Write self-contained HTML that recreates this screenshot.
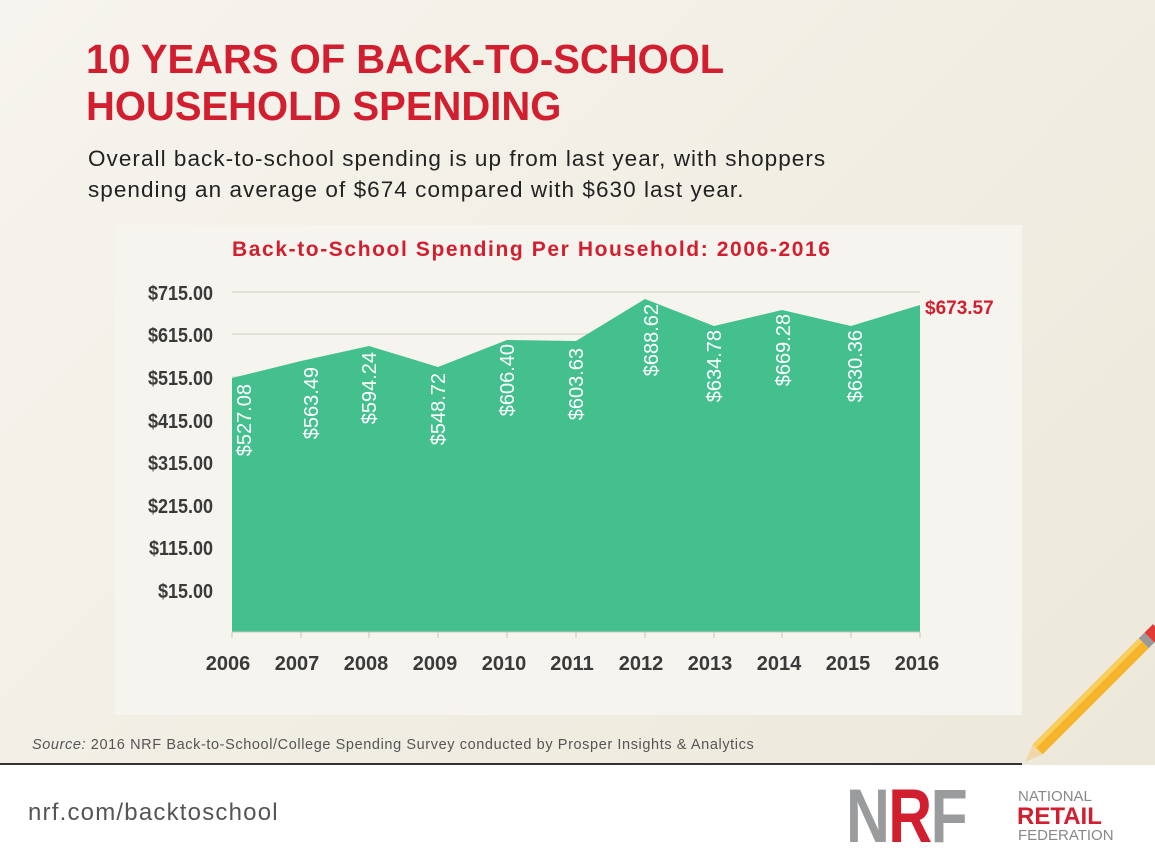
<!DOCTYPE html>
<html><head><style>
body{margin:0;width:1155px;height:864px;overflow:hidden;font-family:"Liberation Sans",sans-serif;}
.bg{position:absolute;left:0;top:0;width:1155px;height:765px;background:linear-gradient(135deg,#f6f4ee 0%,#ece8da 100%);}
.white{position:absolute;left:0;top:765px;width:1155px;height:99px;background:#fff;}
h1{position:absolute;left:86px;top:36px;margin:0;font-size:41px;line-height:47px;color:#d21f30;font-weight:bold;transform:scaleX(0.975);transform-origin:0 0;white-space:nowrap;}
.sub{position:absolute;left:88px;top:143px;font-size:22.5px;line-height:31px;color:#222;letter-spacing:1.05px;white-space:nowrap;}
.panel{position:absolute;left:115px;top:225px;width:907px;height:490px;background:#f6f4ee;}
.src{position:absolute;left:32px;top:737px;font-size:14.5px;color:#555;letter-spacing:0.6px;white-space:nowrap;}
.url{position:absolute;left:28px;top:799px;font-size:24px;color:#555;letter-spacing:1.2px;}
</style></head><body>
<div class="bg"></div><div class="white"></div>
<h1>10 YEARS OF BACK-TO-SCHOOL<br>HOUSEHOLD SPENDING</h1>
<div class="sub">Overall back-to-school spending is up from last year, with shoppers<br>spending an average of $674 compared with $630 last year.</div>
<div class="panel"></div>
<svg width="1155" height="864" style="position:absolute;left:0;top:0">
<text x="232" y="256" font-size="21" font-weight="bold" fill="#d21f30" font-family="Liberation Sans" letter-spacing="1.6">Back-to-School Spending Per Household: 2006-2016</text>
<g stroke="#e2e0d8" stroke-width="2">
<line x1="232" y1="292" x2="920" y2="292"/><line x1="232" y1="334" x2="920" y2="334"/><line x1="232" y1="377" x2="920" y2="377"/><line x1="232" y1="420" x2="920" y2="420"/><line x1="232" y1="462" x2="920" y2="462"/><line x1="232" y1="505" x2="920" y2="505"/><line x1="232" y1="547" x2="920" y2="547"/><line x1="232" y1="590" x2="920" y2="590"/>
</g>
<polygon fill="#44bf8e" points="232,632 232,378 301,361 369,346 438,367 507,340 576,341 645,299 714,326 782,310 851,326 920,305 920,632"/>
<g stroke="#c9c7bf" stroke-width="1"><line x1="232" y1="632" x2="920" y2="632"/>
<line x1="232" y1="632" x2="232" y2="638"/><line x1="301" y1="632" x2="301" y2="638"/><line x1="369" y1="632" x2="369" y2="638"/><line x1="438" y1="632" x2="438" y2="638"/><line x1="507" y1="632" x2="507" y2="638"/><line x1="576" y1="632" x2="576" y2="638"/><line x1="645" y1="632" x2="645" y2="638"/><line x1="714" y1="632" x2="714" y2="638"/><line x1="782" y1="632" x2="782" y2="638"/><line x1="851" y1="632" x2="851" y2="638"/><line x1="920" y1="632" x2="920" y2="638"/></g>
<g font-size="20" fill="#3a3a3a" font-weight="bold" text-anchor="end" font-family="Liberation Sans" transform="translate(213,0) scale(0.9,1) translate(-213,0)">
<text x="213" y="300">$715.00</text><text x="213" y="342">$615.00</text><text x="213" y="385">$515.00</text><text x="213" y="428">$415.00</text><text x="213" y="470">$315.00</text><text x="213" y="513">$215.00</text><text x="213" y="555">$115.00</text><text x="213" y="598">$15.00</text>
</g>
<g font-size="20" fill="#3a3a3a" font-weight="bold" text-anchor="middle" font-family="Liberation Sans">
<text x="228" y="670">2006</text><text x="297" y="670">2007</text><text x="366" y="670">2008</text><text x="435" y="670">2009</text><text x="504" y="670">2010</text><text x="572" y="670">2011</text><text x="641" y="670">2012</text><text x="710" y="670">2013</text><text x="779" y="670">2014</text><text x="848" y="670">2015</text><text x="917" y="670">2016</text>
</g>
<g font-size="20" fill="#fff" text-anchor="end" font-family="Liberation Sans">
<text transform="translate(251,384) rotate(-90)">$527.08</text>
<text transform="translate(318,367) rotate(-90)">$563.49</text>
<text transform="translate(376,352) rotate(-90)">$594.24</text>
<text transform="translate(445,373) rotate(-90)">$548.72</text>
<text transform="translate(514,344) rotate(-90)">$606.40</text>
<text transform="translate(583,348) rotate(-90)">$603.63</text>
<text transform="translate(658,304) rotate(-90)">$688.62</text>
<text transform="translate(721,330) rotate(-90)">$634.78</text>
<text transform="translate(790,314) rotate(-90)">$669.28</text>
<text transform="translate(862,330) rotate(-90)">$630.36</text>
</g>
<text x="925" y="314" font-size="19" font-weight="bold" fill="#d21f30" font-family="Liberation Sans">$673.57</text>
<line x1="0" y1="764" x2="1022" y2="764" stroke="#333" stroke-width="2"/>
<g transform="translate(1025,762) rotate(-45)">
<polygon points="0,0 18,-7 18,7" fill="#f0d6a8"/>
<rect x="18" y="-7" width="150" height="14" fill="#f5b42a"/>
<rect x="18" y="-7" width="150" height="5" fill="#f8cf5c"/>
<rect x="168" y="-7" width="8" height="14" fill="#999"/>
<rect x="176" y="-7" width="12" height="14" fill="#e23a35"/>
</g>
<text x="846" y="842" font-size="76" font-weight="bold" fill="#9a9b9d" font-family="Liberation Sans" letter-spacing="-2" transform="translate(846,0) scale(0.8,1) translate(-846,0)">N<tspan fill="#d21f30">R</tspan>F</text>
<text x="1018" y="801" font-size="15" fill="#888" font-family="Liberation Sans">NATIONAL</text>
<text x="1017" y="824" font-size="24" font-weight="bold" fill="#d21f30" font-family="Liberation Sans">RETAIL</text>
<text x="1018" y="840" font-size="15" fill="#888" font-family="Liberation Sans">FEDERATION</text>
</svg>
<div class="src"><i>Source:</i> 2016 NRF Back-to-School/College Spending Survey conducted by Prosper Insights &amp; Analytics</div>
<div class="url">nrf.com/backtoschool</div>
</body></html>
